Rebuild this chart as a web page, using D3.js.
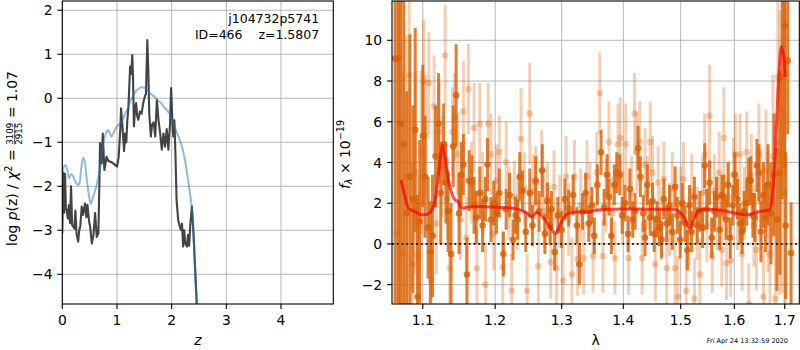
<!DOCTYPE html>
<html>
<meta charset="utf-8">
<style>
body { margin: 0; background: #fff; }
svg { font-family: "DejaVu Sans", sans-serif; }
</style>
<body>
<svg width="800" height="350"></svg>
<script src="https://cdn.jsdelivr.net/npm/d3@7"></script>
<script>

// ---- left panel: log p(z) ----
var zDark = [0, 0.015, 0.025, 0.035, 0.05, 0.065, 0.08, 0.10, 0.12, 0.14,
  0.16, 0.18, 0.20, 0.22, 0.24, 0.26, 0.29, 0.31, 0.33, 0.355,
  0.38, 0.40, 0.415, 0.44, 0.46, 0.49, 0.51, 0.54, 0.57, 0.60,
  0.63, 0.66, 0.68, 0.69, 0.72, 0.74, 0.77, 0.81, 0.84, 0.87,
  0.90, 0.93, 0.97, 1.00, 1.03, 1.06, 1.075, 1.10, 1.13, 1.15,
  1.17, 1.19, 1.21, 1.24, 1.26, 1.28, 1.295, 1.31, 1.33, 1.35,
  1.37, 1.39, 1.42, 1.45, 1.48, 1.51, 1.53, 1.555, 1.575, 1.59,
  1.62, 1.64, 1.67, 1.70, 1.73, 1.76, 1.79, 1.82, 1.85, 1.88,
  1.91, 1.94, 1.97, 1.99, 2.01, 2.03, 2.05, 2.07, 2.09, 2.12,
  2.15, 2.17, 2.19, 2.21, 2.23, 2.25, 2.28, 2.30, 2.32, 2.34,
  2.37, 2.40, 2.43, 2.46, 2.48];
var lpDark = [-3.07, -2.0, -1.70, -2.6, -1.72, -2.5, -2.54, -2.73, -2.43, -2.84,
  -2.0, -2.88, -2.92, -2.96, -2.55, -3.07, -3.26, -3.0, -2.9, -2.46,
  -2.65, -2.5, -2.39, -2.7, -2.42, -2.8, -2.92, -3.30, -3.1, -2.61,
  -3.15, -3.07, -1.82, -1.02, -1.48, -0.80, -1.63, -1.33, -1.42, -1.44,
  -1.45, -1.48, -1.52, -1.55, -1.35, -0.72, -0.23, -0.64, -1.2, -0.8,
  -1.0, -0.5, -0.19, 0.72, 0.55, 0.98, 0.40, -0.64, -0.25, -0.11,
  -0.40, -0.49, -0.30, -0.35, -0.11, 0.04, 0.10, 1.32, 0.57, -0.34,
  -0.87, -0.60, -0.55, -0.87, -0.04, -0.50, -0.80, -1.17, -0.80, -1.10,
  -0.70, -1.17, -0.60, 0.23, -0.40, -0.87, -0.50, -1.30, -2.31, -2.77,
  -2.92, -2.99, -2.85, -3.37, -3.0, -3.3, -3.37, -3.1, -3.35, -2.9,
  -2.46, -3.07, -3.9, -4.68, -5.2];

var zBlue = [0, 0.03, 0.06, 0.09, 0.12, 0.16, 0.20, 0.25, 0.29, 0.32,
  0.35, 0.38, 0.41, 0.44, 0.48, 0.52, 0.56, 0.60, 0.65, 0.70,
  0.74, 0.78, 0.81, 0.84, 0.87, 0.90, 0.95, 1.00, 1.05, 1.10,
  1.15, 1.20, 1.25, 1.30, 1.35, 1.40, 1.45, 1.50, 1.55, 1.60,
  1.65, 1.70, 1.75, 1.80, 1.85, 1.90, 1.95, 2.00, 2.05, 2.10,
  2.15, 2.20, 2.25, 2.30, 2.34, 2.37, 2.40, 2.43, 2.46, 2.49];
var lpBlue = [-1.72, -1.55, -1.52, -1.62, -1.82, -1.72, -1.78, -1.92, -1.97, -1.90,
  -1.55, -1.35, -1.42, -1.75, -2.15, -2.40, -2.25, -2.10, -1.85, -1.50,
  -1.10, -0.87, -0.76, -0.72, -0.80, -0.87, -0.75, -0.64, -0.58, -0.50,
  -0.35, -0.22, -0.05, 0.07, 0.17, 0.22, 0.25, 0.24, 0.20, 0.12,
  0.07, 0.02, -0.05, -0.10, -0.18, -0.25, -0.33, -0.45, -0.62, -0.80,
  -0.95, -1.15, -1.45, -1.85, -2.20, -2.50, -3.10, -3.90, -4.70, -5.5];

var zTicks = [0, 1, 2, 3, 4];
var lpTicks = [-4, -3, -2, -1, 0, 1, 2];

// ---- right panel: spectrum ----
var lamA = [1.064, 1.068, 1.071, 1.075, 1.079, 1.083, 1.087, 1.090, 1.093, 1.096,
  1.100, 1.103, 1.107, 1.110, 1.113, 1.117, 1.121, 1.124, 1.128, 1.131,
  1.134, 1.138, 1.141, 1.145, 1.149, 1.152, 1.155, 1.160, 1.163, 1.167,
  1.170, 1.173, 1.178, 1.182, 1.186, 1.189, 1.194, 1.198, 1.202, 1.206,
  1.212, 1.216, 1.221, 1.226, 1.230, 1.233, 1.236, 1.240, 1.245, 1.251,
  1.255, 1.260, 1.265, 1.270, 1.274, 1.278, 1.282, 1.284, 1.289, 1.294,
  1.300, 1.305, 1.311, 1.318, 1.324, 1.328, 1.333, 1.338, 1.343, 1.348,
  1.352, 1.357, 1.363, 1.368, 1.373, 1.376, 1.380, 1.385, 1.389, 1.394,
  1.398, 1.403, 1.408, 1.411, 1.416, 1.420, 1.425, 1.429, 1.434, 1.437,
  1.441, 1.446, 1.450, 1.453, 1.458, 1.462, 1.466, 1.470, 1.475, 1.480,
  1.485, 1.490, 1.494, 1.499, 1.503, 1.508, 1.512, 1.516, 1.520, 1.525,
  1.530, 1.535, 1.540, 1.544, 1.548, 1.553, 1.557, 1.562, 1.566, 1.572,
  1.576, 1.580, 1.584, 1.588, 1.592, 1.597, 1.601, 1.606, 1.611, 1.615,
  1.619, 1.624, 1.628, 1.632, 1.636, 1.640, 1.644, 1.648, 1.652, 1.657,
  1.661, 1.666, 1.672, 1.678, 1.684, 1.690, 1.695, 1.700, 1.702, 1.706,
  1.713];
var fluxA = [9.1, 9.1, 5.9, 4.9, 1.5, 3.3, 2.2, 5.6, -2.6, 1.1,
  5.3, 3.3, 0.8, -0.4, 0.4, 4.3, 5.9, 2.5, 4.9, 3.0,
  1.6, -0.5, 4.8, 7.3, 1.5, 3.4, 3.9, -1.5, 3.1, 3.05,
  1.9, 1.3, 2.5, 0.9, 2.2, 3.9, 1.2, 2.0, 1.5, 2.5,
  -0.5, 1.7, 2.4, 0.2, 1.4, 1.2, 3.3, 2.6, 0.6, 2.5,
  0.9, 3.1, 1.6, 3.6, 0.5, 2.1, 0.85, 1.7, -0.4, 1.4,
  0.7, 2.2, 1.75, 2.4, 0.9, -1.0, 1.6, 2.5, 1.0, 1.9,
  0.4, 2.9, 4.5, 1.8, 3.4, 2.3, 0.4, 2.9, 3.5, 3.4,
  1.4, 2.0, 0.5, 2.7, 1.2, 1.6, 4.7, 3.3, 1.5, 0.3,
  2.9, 1.3, 2.1, 0.5, 1.2, 0.8, 0.2, 2.2, 1.0, 1.9,
  0.6, 2.8, 1.4, 0.2, 2.0, 1.0, -0.3, 1.9, 0.6, 2.3,
  0.9, 1.6, 0.8, 3.85, 1.7, 3.0, 0.3, 1.6, 2.3, 0.7,
  2.4, 2.3, 1.2, 2.9, 0.3, 1.9, 3.4, 2.2, 1.0, 0.6,
  1.6, 2.0, 3.15, 3.1, 1.4, 1.3, 3.85, 3.5, 0.6, 2.4,
  1.3, 2.9, 1.5, 3.4, 1.2, 3.5, 8.2, 10.7, 0.9, 9.0,
  -0.45];
var errA = [12, 12, 9, 10, 6, 7, 4.6, 5, 5, 4,
  3.5, 3, 2.5, 2.5, 3, 2.5, 2.5, 2.5, 2, 2,
  2, 2.5, 2, 2.5, 2, 1.6, 1.5, 1.8, 1.5, 1.3,
  1.4, 1.3, 1.3, 1.3, 1.1, 1.3, 1.1, 1.1, 1.0, 1.2,
  1.1, 1.0, 1.1, 1.0, 0.9, 1.0, 1.2, 1.0, 1.0, 1.2,
  1.0, 1.2, 1.0, 1.3, 1.0, 0.9, 0.9, 0.9, 0.9, 0.9,
  0.9, 1.0, 0.9, 1.0, 0.9, 1.0, 0.9, 1.0, 0.9, 0.9,
  0.9, 1.0, 1.1, 0.9, 1.0, 0.9, 0.9, 1.0, 1.0, 1.0,
  0.9, 0.9, 0.9, 1.0, 0.9, 0.9, 1.1, 1.0, 0.9, 0.9,
  1.0, 0.9, 0.9, 0.9, 0.9, 0.9, 0.9, 1.0, 0.9, 1.0,
  0.9, 1.0, 0.9, 0.9, 1.0, 0.9, 1.0, 1.0, 1.0, 1.0,
  0.9, 1.0, 1.0, 1.1, 1.0, 1.1, 1.0, 1.0, 1.0, 1.0,
  1.0, 1.1, 1.0, 1.1, 1.0, 1.0, 1.1, 1.0, 1.0, 1.1,
  1.0, 1.1, 1.1, 1.2, 1.1, 1.2, 1.3, 1.4, 1.5, 1.6,
  1.7, 2.0, 2.5, 3.0, 3.5, 5, 6, 7, 3.6, 3.6,
  2.5];

var lamB = [1.066, 1.070, 1.074, 1.078, 1.082, 1.086, 1.090, 1.094, 1.098, 1.101,
  1.104, 1.108, 1.111, 1.115, 1.118, 1.122, 1.126, 1.130, 1.133, 1.136,
  1.140, 1.143, 1.147, 1.151, 1.155, 1.159, 1.162, 1.166, 1.170, 1.174,
  1.178, 1.182, 1.186, 1.190, 1.194, 1.198, 1.202, 1.206, 1.211, 1.216,
  1.220, 1.224, 1.228, 1.233, 1.238, 1.243, 1.247, 1.251, 1.256, 1.260,
  1.264, 1.269, 1.273, 1.278, 1.283, 1.288, 1.292, 1.297, 1.302, 1.307,
  1.311, 1.316, 1.320, 1.325, 1.330, 1.335, 1.340, 1.345, 1.350, 1.356,
  1.361, 1.366, 1.371, 1.376, 1.381, 1.386, 1.391, 1.395, 1.399, 1.404,
  1.409, 1.414, 1.419, 1.423, 1.428, 1.432, 1.437, 1.441, 1.446, 1.450,
  1.455, 1.460, 1.465, 1.470, 1.475, 1.480, 1.485, 1.490, 1.495, 1.500,
  1.505, 1.510, 1.515, 1.520, 1.525, 1.530, 1.535, 1.540, 1.544, 1.548,
  1.553, 1.558, 1.562, 1.567, 1.571, 1.576, 1.580, 1.585, 1.589, 1.593,
  1.598, 1.602, 1.606, 1.611, 1.615, 1.619, 1.624, 1.628, 1.633, 1.638,
  1.643, 1.648, 1.652, 1.657, 1.662, 1.666, 1.670, 1.676, 1.681, 1.686,
  1.690, 1.695, 1.700];
var fluxB = [0.5, 6.0, -0.5, 3.3, 8.3, -1.0, 3.5, -0.6, 4.5, 8.0,
  5.3, 7.9, -1.8, 6.75, 1.0, 5.5, 3.8, 9.25, 2.2, -1.2,
  5.5, 6.2, 4.4, 1.2, 6.5, 0.3, 7.6, 3.0, 5.7, -1.2,
  5.9, 2.5, -2.0, 5.9, 4.4, 0.5, 3.1, 4.5, -1.15, 4.0,
  2.0, -2.3, 2.3, 1.5, 5.15, 2.7, -2.3, 6.4, 2.6, 3.0,
  -1.1, 3.6, 1.6, 2.2, -0.9, 2.8, -1.2, 1.6, -1.8, 3.3,
  1.2, -1.5, 3.3, -0.75, 1.9, -0.7, 3.3, 2.2, -0.6, 3.5,
  7.4, -0.6, 2.4, 5.0, 1.5, -0.7, 4.9, 5.2, 1.8, 4.9,
  -0.7, 2.5, 6.4, 4.5, 5.0, -0.7, 3.9, 2.5, 5.0, 3.5,
  -1.0, 3.0, 1.0, 3.2, -1.2, 1.2, 2.7, -1.2, -2.6, 2.0,
  3.2, -2.3, 0.5, 2.6, -2.7, 1.0, -1.5, 2.5, 4.4, 0.9,
  6.3, -0.6, 2.6, 1.5, 3.5, -0.3, 5.2, -0.95, 2.3, -0.8,
  3.4, 4.4, 1.5, 4.4, -0.5, 2.0, 4.5, -2.95, 3.4, 0.9,
  -0.3, 4.4, 2.2, -2.6, 3.6, 1.6, -0.5, 4.3, -2.7, 8.2,
  4.5, 6.6, 2.5];
var errB = [12, 10, 9, 7, 6, 5, 5, 4, 4, 3,
  3, 2.5, 2.5, 2.5, 2.5, 2.5, 2.5, 2.5, 2, 2.5,
  2.2, 2.2, 2, 2, 2.5, 2, 2.2, 2, 2.2, 2,
  2, 2, 2, 2, 2, 1.8, 1.8, 1.8, 1.8, 2,
  1.8, 1.8, 1.8, 1.8, 2.5, 1.8, 1.8, 2.5, 1.8, 1.8,
  1.8, 2, 1.8, 1.8, 1.8, 1.8, 1.8, 1.8, 1.8, 2,
  1.8, 1.8, 1.8, 1.8, 1.8, 1.8, 1.8, 1.8, 1.8, 2,
  2, 1.8, 1.8, 2, 1.8, 1.8, 2, 2, 1.8, 2,
  1.8, 1.8, 2, 2, 2, 1.8, 1.8, 1.8, 2, 1.8,
  1.8, 1.8, 1.8, 1.8, 1.8, 1.8, 1.8, 1.8, 2, 1.8,
  1.8, 2, 1.8, 1.8, 2, 1.8, 1.8, 1.8, 2, 1.8,
  2.5, 1.8, 1.8, 1.8, 2, 1.8, 2.5, 1.8, 1.8, 1.8,
  1.8, 2, 1.8, 2, 1.8, 1.8, 2, 2, 2, 2,
  2, 2.5, 2.5, 2.5, 3, 3, 3.5, 4, 5, 6,
  7, 9, 10];

var lamModel = [1.0715, 1.0767, 1.081, 1.0897, 1.0986, 1.105, 1.112, 1.1163, 1.1207, 1.1244,
  1.1267, 1.1298, 1.1343, 1.139, 1.1435, 1.148, 1.1518, 1.16, 1.1784, 1.2023,
  1.2266, 1.2365, 1.2466, 1.2541, 1.2617, 1.267, 1.2744, 1.282, 1.2898, 1.296,
  1.3028, 1.3106, 1.325, 1.3399, 1.3563, 1.40, 1.45, 1.4875, 1.496, 1.5055,
  1.5158, 1.5237, 1.5329, 1.55, 1.57, 1.5921, 1.6244, 1.6507, 1.669, 1.674,
  1.681, 1.687, 1.693, 1.699, 1.701];
var fluxModel = [3.15, 2.33, 1.75, 1.59, 1.43, 1.45, 1.67, 2.16, 3.31, 4.46,
  4.87, 4.21, 3.15, 2.49, 2.16, 2.08, 1.75, 1.8, 1.84, 1.80,
  1.75, 1.67, 1.51, 1.34, 1.54, 1.45, 1.18, 0.85, 0.52, 0.85,
  1.26, 1.51, 1.57, 1.56, 1.67, 1.72, 1.70, 1.70, 1.62, 1.34,
  0.77, 1.18, 1.64, 1.70, 1.68, 1.56, 1.43, 1.59, 1.67, 2.2,
  4.6, 7.9, 9.7, 9.0, 8.2];

var lamTicks = [1.1, 1.2, 1.3, 1.4, 1.5, 1.6, 1.7];
var fTicks = [-2, 0, 2, 4, 6, 8, 10];

// ---------------------------------------------
var svg = d3.select("svg");
var fs = 13.9, tickLen = 4.9, pad = 4.9;
var orange = "#d95f02";

var L = {x0: 62.3, x1: 333.3, y0: 1, y1: 304};
var R = {x0: 392, x1: 799.3, y0: 1, y1: 304};

var xz = d3.scaleLinear().domain([0, 4.957]).range([L.x0, L.x1]);
var yp = d3.scaleLinear().domain([-4.675, 2.21]).range([L.y1, L.y0]);
var xl = d3.scaleLog().domain([1.06, 1.73]).range([R.x0, R.x1]);
var yf = d3.scaleLinear().domain([-2.95, 11.93]).range([R.y1, R.y0]);

var defs = svg.append("defs");
[["clipL", L], ["clipR", R]].forEach(function(c) {
  defs.append("clipPath").attr("id", c[0]).append("rect")
    .attr("x", c[1].x0).attr("y", c[1].y0)
    .attr("width", c[1].x1 - c[1].x0).attr("height", c[1].y1 - c[1].y0);
});

function grid(box, xs, ys, xt, yt) {
  var g = svg.append("g").attr("stroke", "#b0b0b0").attr("stroke-width", 0.9);
  g.selectAll(".gx").data(xt).enter().append("line")
    .attr("x1", xs).attr("x2", xs).attr("y1", box.y0).attr("y2", box.y1);
  g.selectAll(".gy").data(yt).enter().append("line")
    .attr("y1", ys).attr("y2", ys).attr("x1", box.x0).attr("x2", box.x1);
}

function frame(box, xs, ys, xt, yt, xfmt, yfmt) {
  svg.append("rect").attr("x", box.x0).attr("y", box.y0)
    .attr("width", box.x1 - box.x0).attr("height", box.y1 - box.y0)
    .attr("fill", "none").attr("stroke", "#000").attr("stroke-width", 1.1);
  var g = svg.append("g").attr("font-size", fs).attr("fill", "#000");
  g.selectAll(".tx").data(xt).enter().append("line")
    .attr("x1", xs).attr("x2", xs).attr("y1", box.y1).attr("y2", box.y1 + tickLen)
    .attr("stroke", "#000").attr("stroke-width", 1.1);
  g.selectAll(".lx").data(xt).enter().append("text")
    .attr("x", xs).attr("y", box.y1 + tickLen + pad + 10.8)
    .attr("text-anchor", "middle").text(xfmt);
  g.selectAll(".ty").data(yt).enter().append("line")
    .attr("y1", ys).attr("y2", ys).attr("x1", box.x0 - tickLen).attr("x2", box.x0)
    .attr("stroke", "#000").attr("stroke-width", 1.1);
  g.selectAll(".ly").data(yt).enter().append("text")
    .attr("x", box.x0 - tickLen - pad).attr("y", function(d) { return ys(d) + 5.1; })
    .attr("text-anchor", "end").text(yfmt);
}

// ---- left panel ----
grid(L, xz, yp, zTicks, lpTicks);
var gl = svg.append("g").attr("clip-path", "url(#clipL)");
var lineL = d3.line().x(function(d) { return xz(d[0]); }).y(function(d) { return yp(d[1]); });
gl.append("path").datum(d3.zip(zDark, lpDark)).attr("d", lineL)
  .attr("fill", "none").attr("stroke", "#333").attr("stroke-opacity", 0.92)
  .attr("stroke-width", 2.1).attr("stroke-linejoin", "round");
gl.append("path").datum(d3.zip(zBlue, lpBlue)).attr("d", lineL.curve(d3.curveMonotoneX))
  .attr("fill", "none").attr("stroke", "#1f77b4").attr("stroke-opacity", 0.5)
  .attr("stroke-width", 2);
frame(L, xz, yp, zTicks, lpTicks, d3.format("d"), d3.format("d"));

svg.append("text").attr("x", 319.2).attr("y", 22.7).attr("font-size", 12.5)
  .attr("text-anchor", "end").text("j104732p5741");
svg.append("text").attr("x", 319.2).attr("y", 39.4).attr("font-size", 12.5)
  .attr("text-anchor", "end").style("white-space", "pre").text("ID=466    z=1.5807");

// ---- right panel ----
grid(R, xl, yf, lamTicks, fTicks);
var gr = svg.append("g").attr("clip-path", "url(#clipR)");

function errorbars(lam, flux, err, alpha) {
  var pts = d3.zip(lam, flux, err);
  var g = gr.append("g");
  g.selectAll("line").data(pts).enter().append("line")
    .attr("x1", function(d) { return xl(d[0]); }).attr("x2", function(d) { return xl(d[0]); })
    .attr("y1", function(d) { return yf(d[1] - d[2]); })
    .attr("y2", function(d) { return yf(d[1] + d[2]); })
    .attr("stroke", orange).attr("stroke-width", 3).attr("stroke-opacity", alpha);
  g.selectAll("circle").data(pts).enter().append("circle")
    .attr("cx", function(d) { return xl(d[0]); }).attr("cy", function(d) { return yf(d[1]); })
    .attr("r", 3.3).attr("fill", orange).attr("fill-opacity", alpha);
}
errorbars(lamB, fluxB, errB, 0.3);
errorbars(lamA, fluxA, errA, 0.8);

gr.append("path").datum(d3.zip(lamModel, fluxModel))
  .attr("d", d3.line().curve(d3.curveMonotoneX)
    .x(function(d) { return xl(d[0]); }).y(function(d) { return yf(d[1]); }))
  .attr("fill", "none").attr("stroke", "red").attr("stroke-opacity", 0.7)
  .attr("stroke-width", 3);

gr.append("line").attr("x1", R.x0).attr("x2", R.x1).attr("y1", yf(0)).attr("y2", yf(0))
  .attr("stroke", "#000").attr("stroke-width", 1.8).attr("stroke-dasharray", "1.8,3");

frame(R, xl, yf, lamTicks, fTicks, d3.format(".1f"), d3.format("d"));

// ---- axis labels ----
svg.append("text").attr("x", (L.x0 + L.x1) / 2).attr("y", 345).attr("font-size", fs)
  .attr("text-anchor", "middle").attr("font-style", "italic").text("z");
svg.append("text").attr("x", (R.x0 + R.x1) / 2).attr("y", 345).attr("font-size", fs)
  .attr("text-anchor", "middle").text("λ");

// left ylabel with stacked fraction
var yl = svg.append("g");
var t1 = yl.append("text").attr("font-size", fs);
t1.append("tspan").text("log ");
t1.append("tspan").attr("font-style", "italic").text("p");
t1.append("tspan").text("(z) / ");
t1.append("tspan").attr("font-style", "italic").text("χ");
t1.append("tspan").attr("font-size", 9.7).attr("dy", -5.5).text("2");
t1.append("tspan").attr("dy", 5.5).style("white-space", "pre").text(" = ");
var w1 = t1.node().getComputedTextLength();
var fw = 20.5;
yl.append("text").attr("x", w1 + 1 + fw / 2).attr("y", -4).attr("font-size", 8.7)
  .attr("text-anchor", "middle").text("3109");
yl.append("text").attr("x", w1 + 1 + fw / 2).attr("y", 5).attr("font-size", 8.7)
  .attr("text-anchor", "middle").text("2915");
yl.append("line").attr("x1", w1 + 0.5).attr("x2", w1 + 1.5 + fw)
  .attr("y1", -2.6).attr("y2", -2.6).attr("stroke", "#000").attr("stroke-width", 0.7);
var t3 = yl.append("text").attr("x", w1 + 2 + fw).attr("font-size", fs)
  .style("white-space", "pre").text(" = 1.07");
var total = w1 + 2 + fw + t3.node().getComputedTextLength();
yl.attr("transform", "translate(17.3," + (158.5 + total / 2) + ") rotate(-90)");

// right ylabel
var yr = svg.append("g");
var t4 = yr.append("text").attr("font-size", fs);
t4.append("tspan").attr("font-style", "italic").text("f");
t4.append("tspan").attr("font-size", 9.7).attr("font-style", "italic").attr("dy", 2.8).text("λ");
t4.append("tspan").attr("dy", -2.8).style("white-space", "pre").text(" × 10");
t4.append("tspan").attr("font-size", 9.7).attr("dy", -5.5).text("−19");
var w4 = t4.node().getComputedTextLength();
yr.attr("transform", "translate(349.5," + (154.5 + w4 / 2) + ") rotate(-90)");

// timestamp
svg.append("text").attr("x", 788).attr("y", 342.5).attr("font-size", 6.5)
  .attr("text-anchor", "end").text("Fri Apr 24 13:32:59 2020");

</script>
</body>
</html>
